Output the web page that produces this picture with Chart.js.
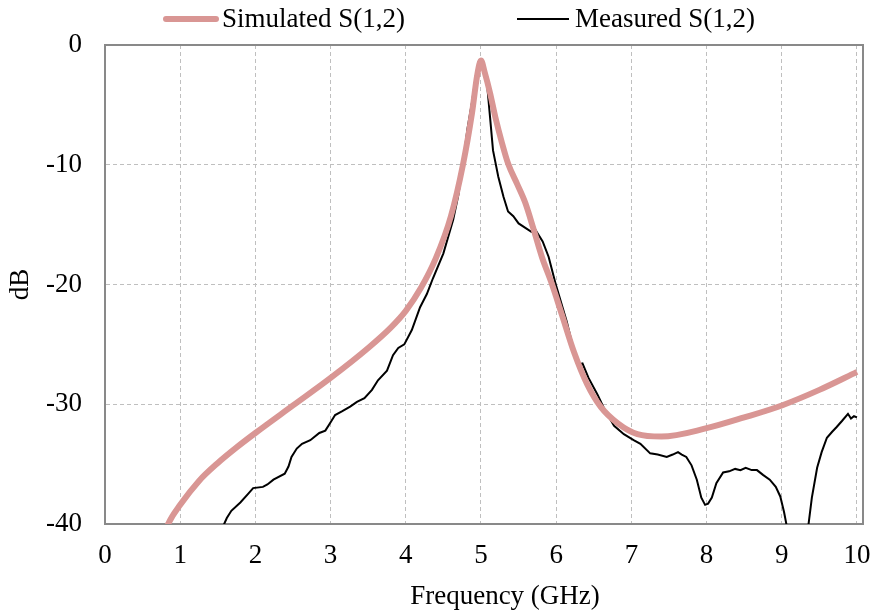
<!DOCTYPE html>
<html>
<head>
<meta charset="utf-8">
<script src="https://cdn.jsdelivr.net/npm/chart.js@4.4.1/dist/chart.umd.min.js"></script>
<style>
  html, body { margin: 0; padding: 0; background: #fff; }
  #wrap { width: 871px; height: 614px; position: relative; }
</style>
</head>
<body>
<div id="wrap"><canvas id="grafik"></canvas></div>
<script>
// data
const seriesNames = ['Simulated S(1,2)', 'Measured S(1,2)'];
const xTitle = 'Frequency (GHz)';
const yTitle = 'dB';
const xTicks = [0, 1, 2, 3, 4, 5, 6, 7, 8, 9, 10];
const yTicks = [0, -10, -20, -30, -40];

const simFreq = [0.70, 0.84, 1.0, 1.25, 1.5, 1.75, 2.0, 2.5, 3.0, 3.5, 3.8, 4.0, 4.2, 4.4, 4.6,
  4.76, 4.88, 4.95, 5.0, 5.05, 5.12, 5.19, 5.28, 5.36, 5.48, 5.59, 5.70, 5.81, 5.94, 6.07,
  6.24, 6.41, 6.59, 6.82, 7.08, 7.4, 8.0, 8.5, 9.0, 9.5, 10.0];
const simDb = [-42.5, -40.0, -38.4, -36.4, -34.9, -33.6, -32.4, -30.1, -27.8, -25.3, -23.6, -22.2, -20.3, -17.8, -14.3,
  -10.0, -5.7, -2.5, -1.3, -2.3, -4.0, -6.0, -8.2, -9.9, -11.6, -13.2, -15.4, -17.7, -19.9, -22.4,
  -25.7, -28.3, -30.2, -31.6, -32.5, -32.7, -32.0, -31.1, -30.1, -28.8, -27.3];

const measFreq = [1.40, 1.52, 1.57, 1.62, 1.68, 1.8, 1.9, 1.97, 2.1, 2.16, 2.24, 2.39, 2.44, 2.48, 2.55,
  2.62, 2.73, 2.85, 2.93, 2.99, 3.06, 3.15, 3.26, 3.35, 3.45, 3.55, 3.63, 3.75, 3.83, 3.9,
  3.98, 4.08, 4.19, 4.28, 4.36, 4.5, 4.63, 4.7, 4.76, 4.82, 4.88, 4.93, 4.97, 5.01, 5.08,
  5.12, 5.16, 5.23, 5.30, 5.36, 5.43, 5.50, 5.67, 5.72, 5.82, 5.90, 5.99, 6.14, 6.28, 6.35,
  6.43, 6.55, 6.64, 6.77, 6.90, 7.03, 7.12, 7.25, 7.35,
  7.47, 7.55, 7.62, 7.67, 7.73, 7.8, 7.87, 7.93, 7.98, 8.02, 8.07, 8.13, 8.22, 8.3, 8.38,
  8.45, 8.52, 8.6, 8.67, 8.75, 8.84, 8.92, 8.98, 9.03, 9.07, 9.12, 9.3, 9.35, 9.4, 9.47,
  9.53, 9.6, 9.67, 9.73, 9.8, 9.88, 9.92, 9.96, 10.0];
const measDb = [-41.0, -40.4, -40.2, -39.5, -38.9, -38.2, -37.5, -37.0, -36.9, -36.7, -36.3, -35.8, -35.2, -34.4, -33.7,
  -33.3, -33.0, -32.4, -32.2, -31.6, -30.9, -30.6, -30.2, -29.8, -29.5, -28.8, -28.0, -27.2, -25.9, -25.3,
  -25.0, -23.8, -21.9, -20.8, -19.5, -17.4, -14.6, -12.5, -9.9, -7.0, -4.8, -2.6, -1.4, -1.3, -3.2,
  -6.0, -8.8, -11.0, -12.7, -13.9, -14.3, -14.9, -15.6, -15.4, -16.4, -17.7, -19.9, -23.1, -26.7, -26.6,
  -27.8, -29.2, -30.4, -31.8, -32.5, -33.0, -33.3, -34.1, -34.2,
  -34.4, -34.2, -34.0, -34.2, -34.4, -35.1, -36.3, -37.8, -38.4, -38.3, -37.8, -36.6, -35.7, -35.6, -35.4,
  -35.5, -35.3, -35.5, -35.5, -35.9, -36.3, -36.9, -37.7, -39.0, -40.3, -43.0, -43.0, -40.3, -37.8, -35.3,
  -34.0, -32.8, -32.3, -31.9, -31.4, -30.8, -31.2, -31.0, -31.1];

const fontFamily = "'Times New Roman', 'Liberation Serif', serif";
const fontSize = 27;

function jadikanTitik(xs, ys) {
    return xs.map((x, i) => ({ x: x, y: ys[i] }));
}

// legend, x title and box border drawn by hand to match the reference placement
const hiasanManual = {
    id: 'hiasanManual',
    beforeDatasetsDraw(chart) {
        const a = chart.chartArea;
        const ctx = chart.ctx;
        ctx.save();
        ctx.strokeStyle = '#898989';
        ctx.lineWidth = 2;
        ctx.beginPath();
        ctx.moveTo(a.left, a.top);
        ctx.lineTo(a.right, a.top);
        ctx.lineTo(a.right, a.bottom);
        ctx.stroke();
        ctx.restore();
    },
    afterDraw(chart) {
        const ctx = chart.ctx;
        const posisi = [{ x1: 166, x2: 216, tx: 222 }, { x1: 517, x2: 569, tx: 575 }];
        const y = 19;
        ctx.save();
        ctx.font = fontSize + 'px ' + fontFamily;
        ctx.textBaseline = 'middle';
        chart.data.datasets.forEach((ds, i) => {
            const p = posisi[i];
            ctx.strokeStyle = ds.borderColor;
            ctx.lineWidth = ds.borderWidth;
            ctx.lineCap = i === 0 ? 'round' : 'butt';
            ctx.beginPath();
            ctx.moveTo(p.x1, y);
            ctx.lineTo(p.x2, y);
            ctx.stroke();
            ctx.fillStyle = '#000';
            ctx.textAlign = 'left';
            ctx.fillText(ds.label, p.tx, y + 1);
        });
        ctx.textAlign = 'center';
        ctx.fillStyle = '#000';
        ctx.fillText(xTitle, 505, 597);
        ctx.restore();
    }
};

const ctx = document.getElementById('grafik');
new Chart(ctx, {
    type: 'line',
    data: {
        datasets: [
            {
                label: seriesNames[0],
                data: jadikanTitik(simFreq, simDb),
                borderColor: '#D99694',
                borderWidth: 6,
                pointRadius: 0,
                cubicInterpolationMode: 'monotone',
                clip: 0
            },
            {
                label: seriesNames[1],
                data: jadikanTitik(measFreq, measDb),
                borderColor: '#000000',
                borderWidth: 2,
                pointRadius: 0,
                tension: 0,
                clip: 0
            }
        ]
    },
    options: {
        responsive: true,
        maintainAspectRatio: false,
        animation: false,
        layout: { padding: { top: 45, right: 8, bottom: 0, left: 0 } },
        plugins: {
            legend: { display: false },
            tooltip: { enabled: false }
        },
        scales: {
            x: {
                type: 'linear',
                min: 0,
                max: 10.08,
                afterBuildTicks: s => { s.ticks = xTicks.map(v => ({ value: v })); },
                afterFit: s => { s.height = 90; s.paddingLeft = 0; s.paddingRight = 0; },
                ticks: {
                    color: '#000',
                    padding: 16,
                    maxRotation: 0,
                    font: { family: fontFamily, size: fontSize }
                },
                grid: { color: '#BFBFBF', lineWidth: 1, drawTicks: false },
                border: { color: '#898989', width: 2, dash: [4, 3] }
            },
            y: {
                min: -40,
                max: 0,
                afterBuildTicks: s => { s.ticks = yTicks.map(v => ({ value: v })); },
                afterFit: s => { s.width = 105; },
                ticks: {
                    color: '#000',
                    padding: 23,
                    font: { family: fontFamily, size: fontSize }
                },
                grid: { color: '#BFBFBF', lineWidth: 1, drawTicks: false },
                border: { color: '#898989', width: 2, dash: [4, 3] },
                title: {
                    display: true,
                    text: yTitle,
                    color: '#000',
                    padding: { top: 5, bottom: 0 },
                    font: { family: fontFamily, size: fontSize }
                }
            }
        }
    },
    plugins: [hiasanManual]
});
</script>
</body>
</html>
